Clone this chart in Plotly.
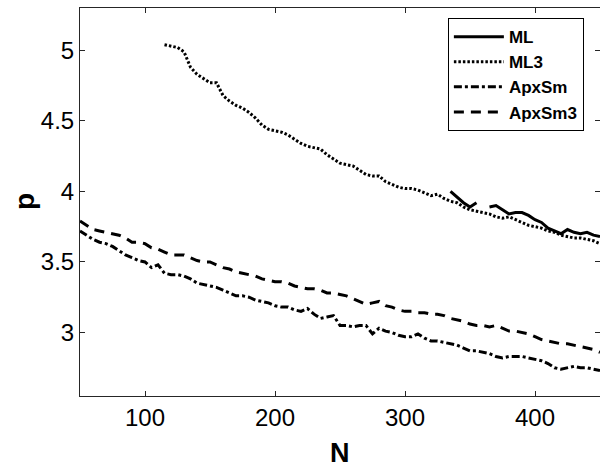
import plotly.graph_objects as go

# ---- data ----
N_all = list(range(50, 451, 5))

apxsm = [3.72, 3.69, 3.66, 3.64, 3.63, 3.61, 3.58, 3.55, 3.53, 3.51,
         3.50, 3.46, 3.48, 3.42, 3.41, 3.41, 3.40, 3.38, 3.35, 3.34,
         3.33, 3.32, 3.30, 3.28, 3.26, 3.26, 3.25, 3.23, 3.22, 3.21,
         3.19, 3.18, 3.18, 3.16, 3.15, 3.17, 3.13, 3.10, 3.11, 3.12,
         3.05, 3.05, 3.04, 3.05, 3.05, 2.99, 3.03, 3.01, 3.00, 2.98,
         2.97, 2.97, 2.99, 2.96, 2.94, 2.94, 2.93, 2.92, 2.91, 2.89,
         2.87, 2.87, 2.86, 2.85, 2.83, 2.82, 2.83, 2.83, 2.83, 2.82,
         2.81, 2.80, 2.78, 2.75, 2.74, 2.75, 2.76, 2.75, 2.75, 2.74,
         2.73]

apxsm3 = [3.79, 3.76, 3.73, 3.72, 3.71, 3.70, 3.69, 3.67, 3.64, 3.64,
          3.63, 3.60, 3.59, 3.57, 3.55, 3.55, 3.55, 3.53, 3.51, 3.50,
          3.50, 3.48, 3.46, 3.45, 3.43, 3.42, 3.41, 3.40, 3.38, 3.37,
          3.36, 3.36, 3.35, 3.33, 3.32, 3.31, 3.31, 3.30, 3.28, 3.28,
          3.27, 3.26, 3.24, 3.22, 3.20, 3.21, 3.22, 3.19, 3.18, 3.16,
          3.15, 3.15, 3.14, 3.14, 3.13, 3.13, 3.12, 3.10, 3.09, 3.08,
          3.06, 3.05, 3.05, 3.04, 3.05, 3.03, 3.01, 3.01, 3.00, 2.99,
          2.97, 2.95, 2.94, 2.93, 2.92, 2.92, 2.91, 2.90, 2.89, 2.88,
          2.86]

N_ml3 = list(range(115, 451, 5))
ml3 = [5.04, 5.03, 5.02, 4.99, 4.88, 4.83, 4.80, 4.77, 4.77, 4.68,
       4.64, 4.61, 4.59, 4.56, 4.52, 4.47, 4.44, 4.43, 4.42, 4.40,
       4.37, 4.34, 4.32, 4.31, 4.30, 4.26, 4.23, 4.20, 4.19, 4.18,
       4.15, 4.12, 4.11, 4.11, 4.07, 4.05, 4.03, 4.02, 4.02, 4.01,
       3.99, 3.97, 3.98, 3.95, 3.93, 3.92, 3.89, 3.87, 3.86, 3.85,
       3.84, 3.82, 3.81, 3.82, 3.80, 3.78, 3.76, 3.75, 3.74, 3.72,
       3.71, 3.69, 3.68, 3.67, 3.67, 3.66, 3.65, 3.63]

N_ml = list(range(335, 451, 5))
ml = [4.00, 3.96, 3.92, 3.89, 3.92, None, 3.89, 3.90, 3.87, 3.84,
      3.85, 3.85, 3.83, 3.80, 3.78, 3.74, 3.72, 3.70, 3.73, 3.71,
      3.70, 3.71, 3.69, 3.68]

x_ticks = [100, 200, 300, 400]
y_ticks = [3, 3.5, 4, 4.5, 5]
y_tick_text = ["3", "3.5", "4", "4.5", "5"]

INK = "#000000"
AX = "#262626"
FONT = "Liberation Sans, Arial, Helvetica, sans-serif"
LW = 3

fig = go.Figure()
fig.add_trace(go.Scatter(x=N_ml, y=ml, mode="lines", name="ML",
                         connectgaps=False, legendgroup="a",
                         line=dict(color=INK, width=LW, dash="solid")))
fig.add_trace(go.Scatter(x=N_ml3, y=ml3, mode="lines", name="ML3",
                         legendgroup="b",
                         line=dict(color=INK, width=LW, dash="2.5px,2px")))
fig.add_trace(go.Scatter(x=N_all, y=apxsm, mode="lines", name="ApxSm",
                         legendgroup="c",
                         line=dict(color=INK, width=LW, dash="8px,3px,3px,3px")))
fig.add_trace(go.Scatter(x=N_all, y=apxsm3, mode="lines", name="ApxSm3",
                         legendgroup="d",
                         line=dict(color=INK, width=LW, dash="10px,7px")))

plot_w, plot_h = 520, 388

fig.update_layout(
    width=600, height=468,
    margin=dict(l=80, r=0, t=8, b=72, autoexpand=False),
    paper_bgcolor="white", plot_bgcolor="white",
    font=dict(family=FONT, color=INK),
    showlegend=True,
    legend=dict(x=0.969, y=0.974, xanchor="right", yanchor="top",
                bgcolor="white", bordercolor=INK, borderwidth=1,
                font=dict(family=FONT, size=17, color=INK, weight="bold"),
                tracegroupgap=0, itemwidth=50),
    xaxis=dict(range=[50, 450], tickvals=x_ticks, ticks="inside", ticklen=5,
               tickcolor=AX, showline=True, linecolor=AX, linewidth=1,
               mirror="ticks", showgrid=False, zeroline=False, automargin=False,
               tickfont=dict(size=24, color=INK)),
    yaxis=dict(range=[2.55, 5.3], tickvals=y_ticks, ticktext=y_tick_text,
               ticks="inside", ticklen=5, tickcolor=AX, showline=True,
               linecolor=AX, linewidth=1, mirror="ticks", showgrid=False,
               zeroline=False, automargin=False,
               tickfont=dict(size=24, color=INK)),
    annotations=[
        dict(text="<b>N</b>", x=0.5, xref="paper", y=(396 - 453) / plot_h,
             yref="paper", showarrow=False, font=dict(size=27, color=INK),
             xanchor="center", yanchor="middle"),
        dict(text="<b>p</b>", x=(24 - 80) / plot_w, y=(396 - 202) / plot_h,
             xref="paper", yref="paper", showarrow=False, textangle=-90,
             font=dict(size=28, color=INK), xanchor="center", yanchor="middle"),
    ],
)

fig.write_html("out.html", config={"displayModeBar": False},
               post_script="document.body.style.margin='0';document.body.style.overflow='hidden';")
